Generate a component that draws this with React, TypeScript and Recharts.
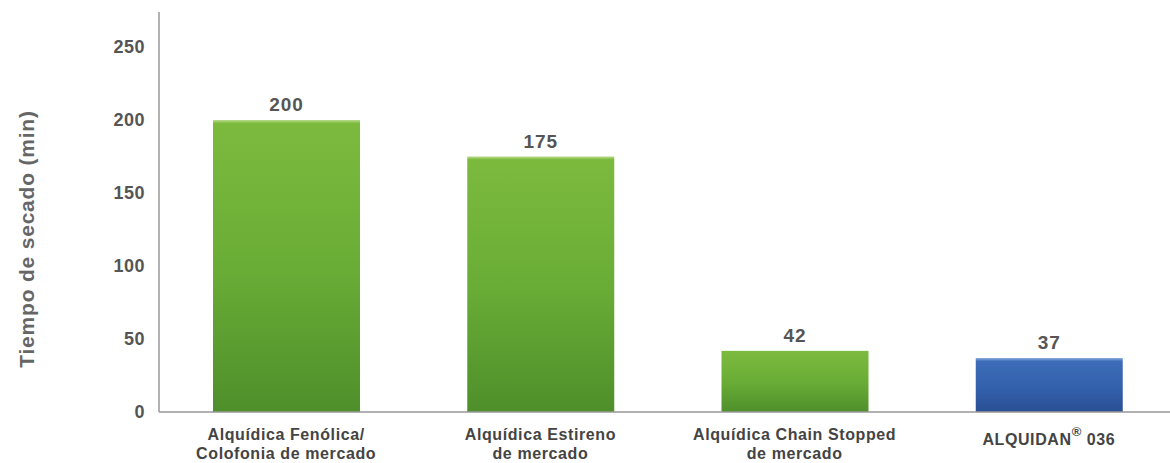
import { BarChart, Bar, XAxis, YAxis, Cell, LabelList } from 'recharts';

const CATEGORIES = [
  'Alquídica Fenólica/\nColofonia de mercado',
  'Alquídica Estireno\nde mercado',
  'Alquídica Chain Stopped\nde mercado',
  'ALQUIDAN® 036',
];
const DRY_TIME = [200, 175, 42, 37];
const BAR_FILLS = ['url(#gGreen)', 'url(#gGreen)', 'url(#gGreen)', 'url(#gBlue)'];
const Y_TICKS = [0, 50, 100, 150, 200, 250];

const data = CATEGORIES.map((name, i) => ({ name, value: DRY_TIME[i] }));

const FONT = '"Liberation Sans", Arial, sans-serif';

function CategoryTick({ x, y, payload }: any) {
  const lines: string[] = String(payload.value).split('\n');
  const single = lines.length === 1;
  return (
    <text x={x} y={y} textAnchor="middle" fill="#444" fontSize={16} letterSpacing={0.6} fontWeight="bold" fontFamily={FONT}>
      {lines.map((line, i) => {
        if (line.includes('®')) {
          const [a, b] = line.split('®');
          return (
            <tspan key={i} x={x} dy={single ? 33 : 28}>
              {a}
              <tspan fontSize={13} dy={-9}>®</tspan>
              <tspan dy={9}>{' ' + b.trim()}</tspan>
            </tspan>
          );
        }
        return (
          <tspan key={i} x={x} dy={i === 0 ? 28 : 19}>
            {line}
          </tspan>
        );
      })}
    </text>
  );
}

function YLabel({ viewBox }: any) {
  const cy = viewBox.y + viewBox.height / 2 + 27;
  return (
    <text
      x={26}
      y={cy}
      transform={`rotate(-90, 26, ${cy})`}
      textAnchor="middle"
      dominantBaseline="central"
      fill="#666"
      fontSize={21}
      letterSpacing={0.8}
      fontWeight="bold"
      fontFamily={FONT}
    >
      Tiempo de secado (min)
    </text>
  );
}

export default function App() {
  return (
    <div style={{ position: 'fixed', left: 0, top: 0, width: 1170, height: 463, overflow: 'hidden', background: '#fff' }}>
      <BarChart width={1176} height={463} data={data} margin={{ top: 12, right: 0, left: 0, bottom: 0 }} barSize={147}>
        <defs>
          <linearGradient id="gGreen" x1="0" y1="0" x2="0" y2="1">
            <stop offset="0%" stopColor="#b9dc8a" />
            <stop offset="1.2%" stopColor="#7cba3e" />
            <stop offset="50%" stopColor="#6aad36" />
            <stop offset="100%" stopColor="#4f8f2b" />
          </linearGradient>
          <linearGradient id="gBlue" x1="0" y1="0" x2="0" y2="1">
            <stop offset="0%" stopColor="#8fb0e0" />
            <stop offset="6%" stopColor="#3d6cb8" />
            <stop offset="50%" stopColor="#3462ad" />
            <stop offset="100%" stopColor="#2a4f95" />
          </linearGradient>
        </defs>
        <XAxis
          dataKey="name"
          height={51}
          interval={0}
          tickLine={false}
          tickSize={0}
          tickMargin={0}
          axisLine={{ stroke: '#999', strokeWidth: 1.5 }}
          tick={<CategoryTick />}
        />
        <YAxis
          width={159}
          domain={[0, 274]}
          ticks={Y_TICKS}
          tickLine={false}
          tickSize={0}
          tickMargin={14}
          axisLine={{ stroke: '#999', strokeWidth: 1.5 }}
          tick={{ fill: '#555', fontSize: 18, letterSpacing: 0.5, fontWeight: 'bold', fontFamily: FONT }}
          label={<YLabel />}
        />
        <Bar dataKey="value" isAnimationActive={false}>
          {data.map((_d, i) => (
            <Cell key={`c-${i}`} fill={BAR_FILLS[i]} />
          ))}
          <LabelList
            dataKey="value"
            position="top"
            offset={9}
            fill="#555"
            fontSize={19}
            letterSpacing={1}
            fontWeight="bold"
            fontFamily={FONT}
          />
        </Bar>
      </BarChart>
    </div>
  );
}
